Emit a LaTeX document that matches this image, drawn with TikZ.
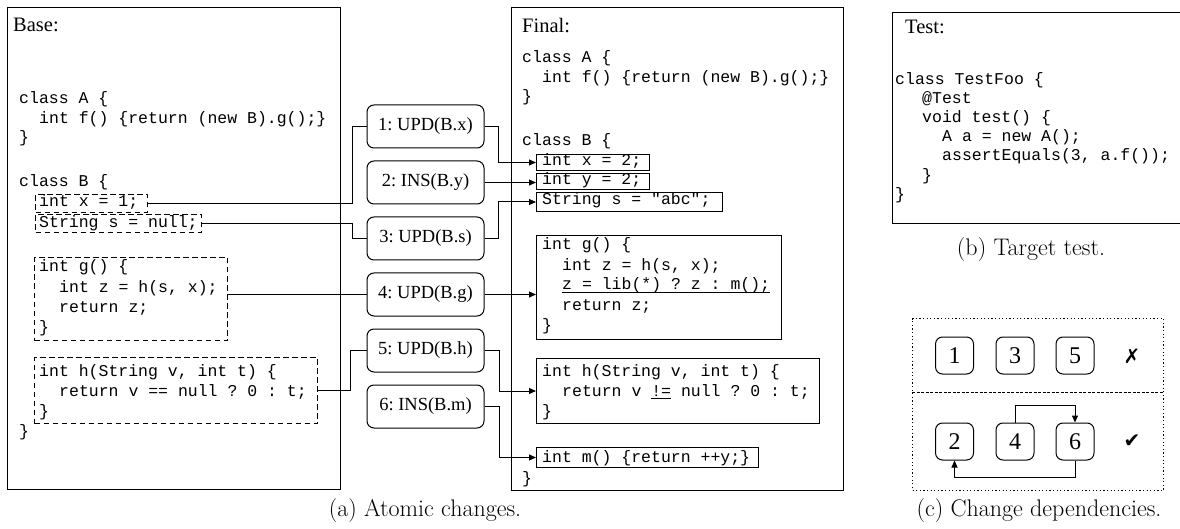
\documentclass[tikz,border=0pt]{standalone}
\usepackage{fontspec}
\usetikzlibrary{arrows.meta}
\newfontfamily\codefont{Liberation Mono}
\newfontfamily\timesfont{Liberation Serif}
\newfontfamily\symfont{DejaVu Sans}
\newcommand{\codeul}[1]{\setbox0=\hbox{#1}\rlap{\rule[-2.6pt]{\wd0}{0.9pt}}\box0\relax}
\frenchspacing
\begin{document}
\begin{tikzpicture}[x=1pt,y=-1pt,
  code/.style={font=\codefont\fontsize{16.5}{20}\selectfont, inner sep=0pt, anchor=base west},
  title/.style={font=\timesfont\fontsize{20.5}{24}\selectfont, inner sep=0pt, anchor=base west},
  frame/.style={draw, line width=1.2pt, inner sep=0pt, anchor=north west},
  dbox/.style={draw, line width=1pt, dash pattern=on 5.5pt off 3.5pt, inner sep=0pt, anchor=north west},
  sbox/.style={draw, line width=1pt, inner sep=0pt, anchor=north west},
  chg/.style={draw, rounded corners=7pt, line width=1pt, minimum width=117pt, minimum height=43pt,
    font=\timesfont\fontsize{18.5}{22}\selectfont, inner sep=0pt},
  dep/.style={draw, rounded corners=7pt, line width=1pt, minimum width=38pt, minimum height=37pt,
    font=\timesfont\fontsize{24}{26}\selectfont, inner sep=0pt},
  checkmark/.style={font=\symfont\fontsize{20}{22}\selectfont, inner sep=0pt},
  conn/.style={line width=1pt},
  arr/.style={line width=1pt, -{Triangle[length=7pt,width=6pt]}},
  captxt/.style={font=\fontsize{24}{28}\selectfont, inner sep=0pt, anchor=base},
]
\useasboundingbox (0,0) rectangle (1180,529);

% ---------------- Base panel ----------------
\node[frame, minimum width=333pt, minimum height=482pt] (Bframe) at (7,7) {};
\node[title] (Btitle) at (13,32) {Base:};
\node[code] (bc1) at (19,104) {class A \{};
\node[code] (bc2) at (39,124) {int f() \{return (new B).g();\}};
\node[code] (bc3) at (19,143) {\}};
\node[code] (bc4) at (19,187) {class B \{};
\node[dbox, minimum width=112pt, minimum height=18pt] (Bx) at (35,194) {};
\node[code] (bxt) at (39,207) {int x = 1;};
\node[dbox, minimum width=166pt, minimum height=18pt] (Bs) at (35,214) {};
\node[code] (bst) at (39,228) {String s = null;};
\node[dbox, minimum width=193pt, minimum height=83pt] (Bg) at (34,257) {};
\node[code] (bg1) at (39,272) {int g() \{};
\node[code] (bg2) at (59,292) {int z = h(s, x);};
\node[code] (bg3) at (59,312) {return z;};
\node[code] (bg4) at (39,332) {\}};
\node[dbox, minimum width=283pt, minimum height=66pt] (Bh) at (34,357) {};
\node[code] (bh1) at (39,376) {int h(String v, int t) \{};
\node[code] (bh2) at (59,396) {return v == null ? 0 : t;};
\node[code] (bh3) at (39,416) {\}};
\node[code] (bc5) at (19,436) {\}};

% ---------------- Changes ----------------
\node[chg] (C1) at (425.5,126.5) {1: UPD(B.x)};
\node[chg] (C2) at (425.5,182.5) {2: INS(B.y)};
\node[chg] (C3) at (425.5,238.5) {3: UPD(B.s)};
\node[chg] (C4) at (425.5,294.5) {4: UPD(B.g)};
\node[chg] (C5) at (425.5,350.5) {5: UPD(B.h)};
\node[chg] (C6) at (425.5,406.5) {6: INS(B.m)};

% ---------------- Final panel ----------------
\node[frame, minimum width=332pt, minimum height=483pt] (Fframe) at (511,7) {};
\node[title] (Ftitle) at (522,33) {Final:};
\node[code] (fc1) at (522,63) {class A \{};
\node[code] (fc2) at (542,83) {int f() \{return (new B).g();\}};
\node[code] (fc3) at (522,102) {\}};
\node[code] (fc4) at (522,146) {class B \{};
\node[sbox, minimum width=113pt, minimum height=16pt] (Fx) at (536,154) {};
\node[code] (fxt) at (542,166) {int x = 2;};
\node[sbox, minimum width=113pt, minimum height=16pt] (Fy) at (536,173) {};
\node[code] (fyt) at (542,185) {int y = 2;};
\node[sbox, minimum width=186pt, minimum height=19pt] (Fs) at (536,192) {};
\node[code] (fst) at (542,205) {String s = "abc";};
\node[sbox, minimum width=245pt, minimum height=104pt] (Fg) at (536,235) {};
\node[code] (fg1) at (542,250) {int g() \{};
\node[code] (fg2) at (562,270) {int z = h(s, x);};
\node[code] (fg3) at (562,290) {\codeul{z = lib(*) ? z : m();}};
\node[code] (fg4) at (562,310) {return z;};
\node[code] (fg5) at (542,330) {\}};
\node[sbox, minimum width=283pt, minimum height=65pt] (Fh) at (536,358) {};
\node[code] (fh1) at (542,376) {int h(String v, int t) \{};
\node[code] (fh2) at (562,396) {return v \codeul{!=} null ? 0 : t;};
\node[code] (fh3) at (542,416) {\}};
\node[sbox, minimum width=222pt, minimum height=20pt] (Fm) at (536,447) {};
\node[code] (fmt) at (542,462) {int m() \{return ++y;\}};
\node[code] (fc5) at (522,483) {\}};

% ---------------- Connectors ----------------
\draw[conn] (Bx.east) -| ([xshift=-14pt]C1.west) -- (C1.west);
\draw[conn] (Bs.east) -| ([xshift=-14pt]C3.west) -- (C3.west);
\draw[conn] (C4.west -| Bg.east) -- (C4.west);
\draw[conn] (Bh.east) -| ([xshift=-16pt]C5.west) -- (C5.west);
\draw[arr] (C1.east) -- ++(14,0) |- (Fx.west);
\draw[arr] (C2.east) -- (C2.east -| Fy.west);
\draw[arr] (C3.east) -- ++(14,0) |- (Fs.west);
\draw[arr] (C4.east) -- (C4.east -| Fg.west);
\draw[arr] (C5.east) -- ++(15,0) |- (Fh.west);
\draw[arr] (C6.east) -- ++(15,0) |- (Fm.west);

\node[captxt] (capa) at (425,516) {(a) Atomic changes.};

% ---------------- Test panel ----------------
\node[frame, minimum width=290pt, minimum height=211pt] (Tframe) at (892,12) {};
\node[title] (Ttitle) at (905,34) {Test:};
\node[code] (t1) at (895,85) {class TestFoo \{};
\node[code] (t2) at (922,104) {@Test};
\node[code] (t3) at (922,123) {void test() \{};
\node[code] (t4) at (942,142) {A a = new A();};
\node[code] (t5) at (942,161) {assertEquals(3, a.f());};
\node[code] (t6) at (922,181) {\}};
\node[code] (t7) at (895,200) {\}};
\node[captxt] (capb) at (1031,255) {(b) Target test.};

% ---------------- Dependencies ----------------
\node[draw, line width=1pt, dash pattern=on 1.2pt off 2.4pt, inner sep=0pt, anchor=north west,
  minimum width=251pt, minimum height=172pt] (Dframe) at (912,318) {};
\coordinate (dmid) at (0,392);
\draw[line width=1pt, dash pattern=on 3pt off 1.5pt] (Dframe.west |- dmid) -- (Dframe.east |- dmid);
\node[dep] (D1) at (954.5,355.5) {1};
\node[dep] (D3) at (1015,355.5) {3};
\node[dep] (D5) at (1075,355.5) {5};
\node[dep] (D2) at (954.5,441.5) {2};
\node[dep] (D4) at (1015,441.5) {4};
\node[dep] (D6) at (1075,441.5) {6};
\node[checkmark] (Mx) at (1132,356) {✗};
\node[checkmark] (Mc) at (1132,441) {✔};
\draw[arr] (D4.north) -- ++(0,-17) -| (D6.north);
\draw[arr] (D6.south) -- ++(0,17) -| (D2.south);
\node[captxt] (capc) at (1039,516) {(c) Change dependencies.};
\end{tikzpicture}
\end{document}
